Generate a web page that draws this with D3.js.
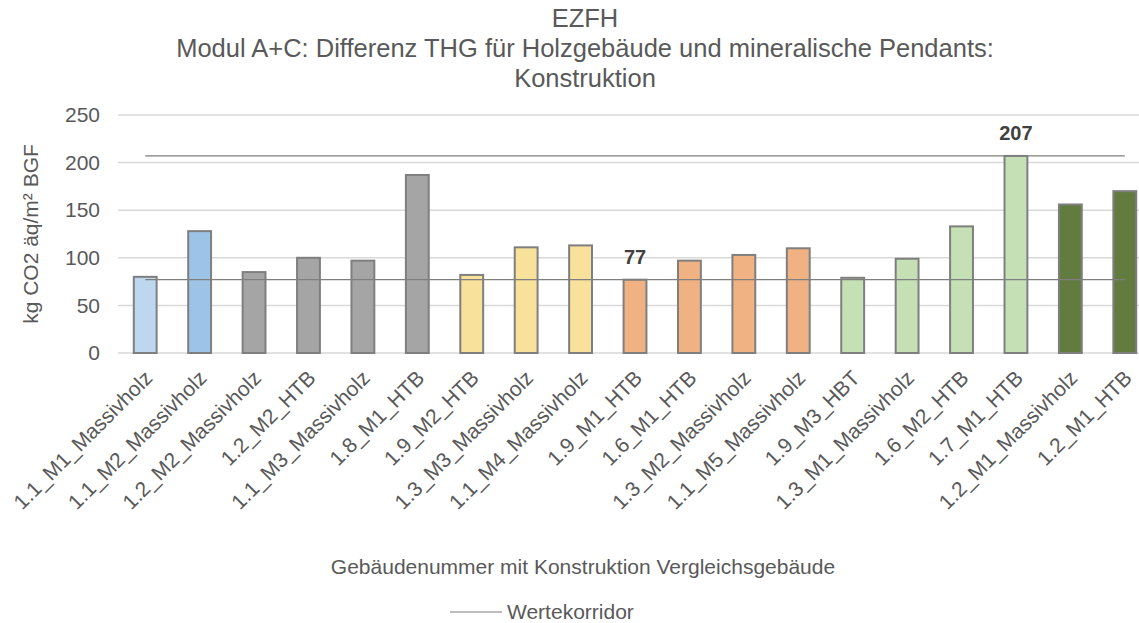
<!DOCTYPE html>
<html>
<head>
<meta charset="utf-8">
<script src="https://cdn.jsdelivr.net/npm/d3@7"></script>
<style>
  body { margin: 0; background: #fff; }
  text { font-family: "Liberation Sans", Arial, sans-serif; fill: #595959; }
</style>
</head>
<body>
<div id="chart"></div>
<script>
const categories = [
  "1.1_M1_Massivholz", "1.1_M2_Massivholz", "1.2_M2_Massivholz", "1.2_M2_HTB",
  "1.1_M3_Massivholz", "1.8_M1_HTB", "1.9_M2_HTB", "1.3_M3_Massivholz",
  "1.1_M4_Massivholz", "1.9_M1_HTB", "1.6_M1_HTB", "1.3_M2_Massivholz",
  "1.1_M5_Massivholz", "1.9_M3_HBT", "1.3_M1_Massivholz", "1.6_M2_HTB",
  "1.7_M1_HTB", "1.2_M1_Massivholz", "1.2_M1_HTB"
];
const values = [80, 128, 85, 100, 97, 187, 82, 111, 113, 77, 97, 103, 110, 79, 99, 133, 207, 156, 170];
const groupOf = [0, 1, 2, 2, 2, 2, 3, 3, 3, 4, 4, 4, 4, 5, 5, 5, 5, 6, 6];
const yTicks = [0, 50, 100, 150, 200, 250];
const titleLines = ["EZFH", "Modul A+C: Differenz THG für Holzgebäude und mineralische Pendants:", "Konstruktion"];

const W = 1139, H = 623;
const plot = { left: 118, right: 1152, top: 115, bottom: 353 };
const palette = ["#BDD7EE", "#9DC3E6", "#A5A5A5", "#F8E19B", "#F0B183", "#C5E0B4", "#627B3F"];

const svg = d3.select("#chart").append("svg")
    .attr("width", W)
    .attr("height", H);

const x = d3.scaleBand()
    .domain(categories)
    .range([plot.left, plot.right])
    .paddingInner(0.58)
    .paddingOuter(0.29);

const y = d3.scaleLinear()
    .domain([0, 250])
    .range([plot.bottom, plot.top]);

// title
svg.append("text")
    .attr("text-anchor", "middle")
    .style("font-size", "25.5px")
    .selectAll("tspan")
    .data(titleLines)
    .enter().append("tspan")
    .attr("x", 585)
    .attr("y", (d, i) => 27 + i * 30)
    .text(d => d);

// gridlines
svg.append("g")
    .selectAll("line")
    .data(yTicks)
    .enter().append("line")
    .attr("x1", plot.left)
    .attr("x2", plot.right)
    .attr("y1", d => y(d))
    .attr("y2", d => y(d))
    .attr("stroke", "#D9D9D9")
    .attr("stroke-width", 1.5);

// y axis labels
const yAxis = svg.append("g")
    .attr("transform", `translate(${plot.left - 18},0)`)
    .call(d3.axisLeft(y).tickValues(yTicks).tickSize(0).tickPadding(0));
yAxis.select(".domain").remove();
yAxis.selectAll("text")
    .style("font-size", "21px")
    .style("font-family", "'Liberation Sans', Arial, sans-serif")
    .attr("fill", "#595959");

// bars
svg.append("g")
    .selectAll("rect")
    .data(values)
    .enter().append("rect")
    .attr("x", (d, i) => x(categories[i]))
    .attr("y", d => y(d))
    .attr("width", x.bandwidth())
    .attr("height", d => y(0) - y(d))
    .attr("fill", (d, i) => palette[groupOf[i]])
    .attr("stroke", "#7F7F7F")
    .attr("stroke-width", 2);

// Wertekorridor: min and max lines
const lo = d3.min(values), hi = d3.max(values);
const x0 = x(categories[0]) + x.bandwidth() / 2;
const x1 = x(categories[categories.length - 1]) + x.bandwidth() / 2;
svg.append("g")
    .selectAll("line")
    .data([lo, hi])
    .enter().append("line")
    .attr("x1", x0)
    .attr("x2", x1)
    .attr("y1", d => y(d))
    .attr("y2", d => y(d))
    .attr("stroke", "#7F7F7F")
    .attr("stroke-width", 1.2);

svg.append("g")
    .selectAll("text")
    .data([lo, hi])
    .enter().append("text")
    .attr("x", d => x(categories[values.indexOf(d)]) + x.bandwidth() / 2)
    .attr("y", d => y(d) - 16)
    .attr("text-anchor", "middle")
    .style("font-size", "20px")
    .style("font-weight", "bold")
    .style("fill", "#404040")
    .text(d => d);

// x labels
svg.append("g")
    .selectAll("text")
    .data(categories)
    .enter().append("text")
    .attr("transform", d => `translate(${x(d) + x.bandwidth() / 2 - 2},${plot.bottom + 16}) rotate(-45)`)
    .attr("text-anchor", "end")
    .attr("dy", "0.7em")
    .style("font-size", "21px")
    .text(d => d);

// axis titles
svg.append("text")
    .attr("transform", `translate(38,${(plot.top + plot.bottom) / 2}) rotate(-90)`)
    .attr("text-anchor", "middle")
    .style("font-size", "21px")
    .text("kg CO2 äq/m² BGF");

svg.append("text")
    .attr("x", 583)
    .attr("y", 574)
    .attr("text-anchor", "middle")
    .style("font-size", "21px")
    .text("Gebäudenummer mit Konstruktion Vergleichsgebäude");

// legend
const legend = svg.append("g").attr("transform", "translate(450,612)");
legend.append("line")
    .attr("x1", 0).attr("x2", 52)
    .attr("stroke", "#7F7F7F")
    .attr("stroke-width", 1.2);
legend.append("text")
    .attr("x", 57)
    .attr("y", 7)
    .style("font-size", "21px")
    .text("Wertekorridor");
</script>
</body>
</html>
